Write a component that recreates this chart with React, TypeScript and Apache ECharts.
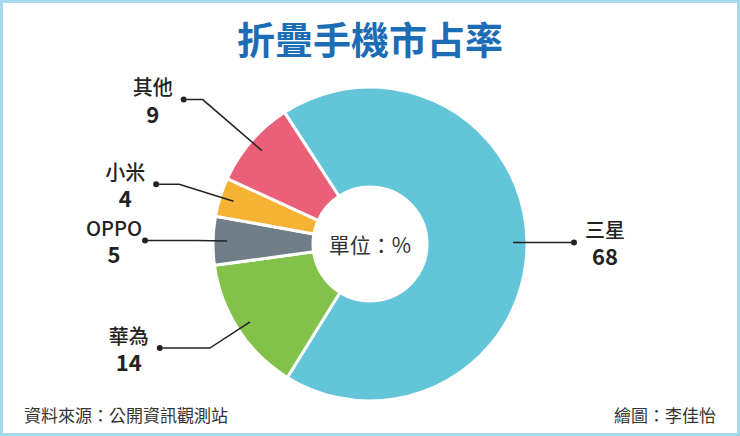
import { useEffect, useRef } from 'react'
import * as echarts from 'echarts'

// 單位：%
const brands = ['三星', '華為', 'OPPO', '小米', '其他']
const shares = [68, 14, 5, 4, 9]
const sliceColors = ['#63c5d8', '#83c24a', '#6f7e88', '#f6b233', '#ea6079']

// leader line lengths per slice (first leg, horizontal leg)
const leaderLens: Record<string, [number, number]> = {
  三星: [8, 50],
  華為: [48, 47],
  OPPO: [30, 49],
  小米: [57, 20],
  其他: [78, 16]
}

const FONT = '"Noto Sans CJK TC", "Noto Sans", sans-serif'
const INNER = 57
const OUTER = 157
const LINE_R = 143

export default function App() {
  const chartRef = useRef<HTMLDivElement>(null)

  useEffect(() => {
    document.body.style.margin = '0'
    if (!chartRef.current) return
    const chart = echarts.init(chartRef.current, null, { renderer: 'svg' })

    const withLens = () =>
      brands.map((name, i) => ({
        name,
        value: shares[i],
        labelLine: { length: leaderLens[name][0], length2: leaderLens[name][1] }
      }))

    const common = {
      type: 'pie' as const,
      center: ['50%', 241],
      startAngle: 123,
      clockwise: true,
      avoidLabelOverlap: false,
      labelLayout: { hideOverlap: false },
      silent: true
    }

    chart.setOption({
      animation: false,
      backgroundColor: '#ffffff',
      title: {
        text: '折疊手機市占率',
        left: 'center',
        top: 10,
        textStyle: { fontSize: 38, fontWeight: 'bold', color: '#1b6db5', fontFamily: FONT }
      },
      graphic: [
        {
          type: 'text',
          x: 367,
          y: 241,
          style: {
            text: '單位：%',
            fill: '#333',
            font: `21px ${FONT}`,
            textAlign: 'center',
            textVerticalAlign: 'middle'
          }
        },
        {
          type: 'text',
          left: 21,
          bottom: 10,
          style: { text: '資料來源：公開資訊觀測站', fill: '#333', font: `17px ${FONT}` }
        },
        {
          type: 'text',
          right: 21,
          bottom: 10,
          style: { text: '繪圖：李佳怡', fill: '#333', font: `17px ${FONT}` }
        }
      ],
      series: [
        {
          ...common,
          z: 2,
          radius: [INNER, OUTER],
          label: { show: false },
          labelLine: { show: false },
          itemStyle: { borderColor: '#ffffff', borderWidth: 3 },
          data: brands.map((name, i) => ({
            name,
            value: shares[i],
            itemStyle: { color: sliceColors[i] }
          }))
        },
        {
          // leader lines + end dots
          ...common,
          z: 5,
          radius: [INNER, LINE_R],
          itemStyle: { color: 'rgba(0,0,0,0)' },
          label: {
            show: true,
            formatter: ' ',
            align: 'center',
            width: 6,
            height: 6,
            padding: 0,
            borderRadius: 3,
            backgroundColor: '#222',
            fontSize: 1,
            distanceToLabelLine: 0
          },
          labelLine: { show: true, lineStyle: { color: '#222', width: 1.5 } },
          data: withLens()
        },
        {
          // brand + value text
          ...common,
          z: 5,
          radius: [INNER, LINE_R],
          itemStyle: { color: 'rgba(0,0,0,0)' },
          label: {
            show: true,
            distanceToLabelLine: 6,
            formatter: (p: { name: string; value: number }) => `{n|${p.name}}\n{v|${p.value}}`,
            rich: {
              n: {
                fontSize: 20,
                fontWeight: 500,
                lineHeight: 26,
                width: 56,
                align: 'center',
                color: '#222',
                fontFamily: FONT
              },
              v: {
                fontSize: 22,
                fontWeight: 'bold',
                lineHeight: 26,
                width: 56,
                align: 'center',
                color: '#222',
                fontFamily: FONT
              }
            }
          },
          labelLine: { show: true, lineStyle: { opacity: 0 } },
          data: withLens()
        }
      ]
    })

    return () => {
      chart.dispose()
    }
  }, [])

  return (
    <div
      style={{
        width: 740,
        height: 436,
        boxSizing: 'border-box',
        border: '3px solid #a3daeb',
        background: '#fff'
      }}
    >
      <div ref={chartRef} style={{ width: 734, height: 430 }} />
    </div>
  )
}
